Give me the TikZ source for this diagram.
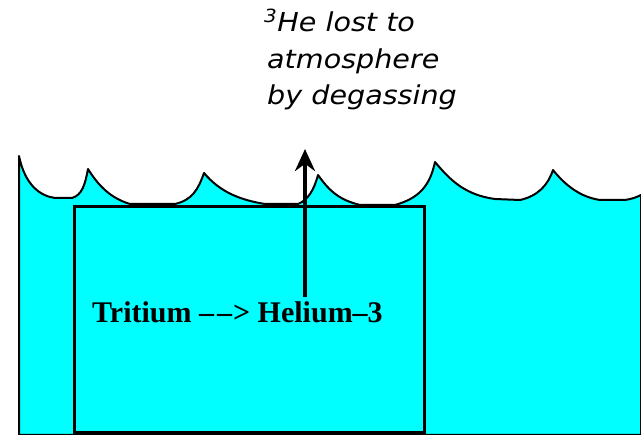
\documentclass[tikz,border=0pt]{standalone}
\usepackage{fontspec}
\usetikzlibrary{arrows.meta}
\newfontfamily\comicfont[FakeStretch=1.1]{DejaVu Sans}
\newfontfamily\boldserif{Liberation Serif}
\definecolor{water}{RGB}{0,255,255}
\tikzset{
  wave/.style={draw=black,line width=2pt,fill=water,line join=round},
  tank/.style={draw=black,line width=3pt},
  caption/.style={font=\comicfont\itshape\fontsize{26}{36.5}\selectfont,align=left,inner sep=0pt,anchor=base west},
  reaction/.style={font=\boldserif\bfseries\fontsize{30}{30}\selectfont,inner sep=0pt,anchor=base west},
  flux/.style={line width=4pt,-{Stealth[length=22pt,width=20pt]}}
}
\begin{document}
\begin{tikzpicture}[x=1pt,y=-1pt]
\useasboundingbox (0,0) rectangle (641,435);
% water with waves
\path[wave]
  (19,435) -- (19,156)
  .. controls (25,185) and (40,196) .. (55,198) -- (72,198)
  .. controls (82,195) and (85,185) .. (88,169)
  .. controls (98,185) and (110,198) .. (130,204) -- (175,204)
  .. controls (192,200) and (198,190) .. (204,173)
  .. controls (220,192) and (240,200) .. (265,204) -- (298,204)
  .. controls (308,200) and (314,190) .. (318,175)
  .. controls (330,192) and (340,200) .. (360,205) -- (395,205)
  .. controls (420,198) and (430,185) .. (435,162)
  .. controls (450,180) and (465,195) .. (495,199) -- (520,200)
  .. controls (538,196) and (548,185) .. (553,170)
  .. controls (565,185) and (580,197) .. (600,200) -- (625,200)
  .. controls (632,199) and (637,197) .. (641,195)
  -- (641,435) -- cycle;
% tank
\node[tank,minimum width=350pt,minimum height=226pt,inner sep=0pt,anchor=north west] (box) at (73,205) {};
% reaction label
\node[reaction] (label) at (92,323) {Tritium {–}\kern3pt{–}\kern1pt> Helium{–}3};
% caption
\node[caption] (top) at (264,105) {\textsuperscript{3}He lost to\\\hspace*{3pt}atmosphere\\\hspace*{3pt}by degassing};
% arrow
\coordinate (src) at (305,297);
\coordinate (dst) at (305,149);
\draw[flux] (src) -- (dst);
\end{tikzpicture}
\end{document}
